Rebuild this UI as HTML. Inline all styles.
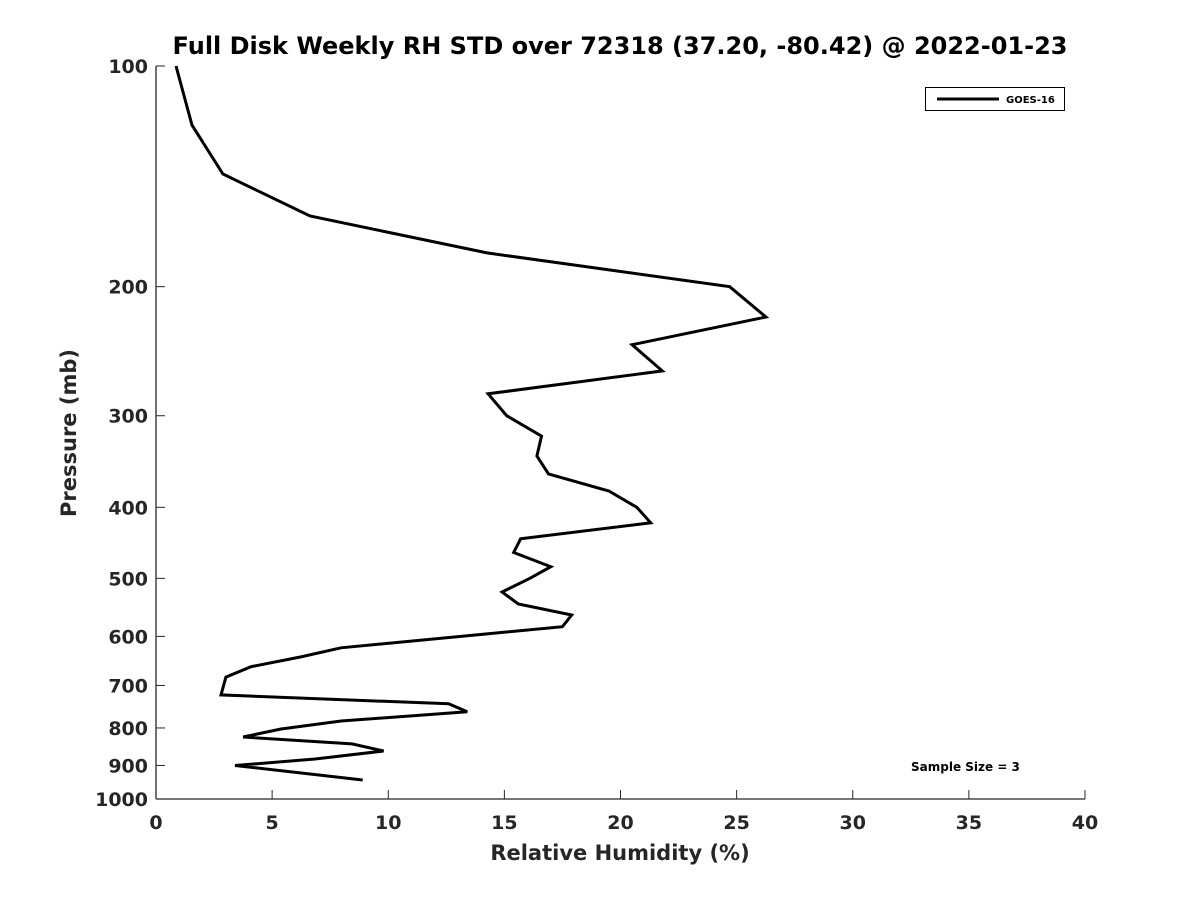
<!DOCTYPE html>
<html><head><meta charset="utf-8"><style>
body{margin:0;background:#fff;}
svg{display:block;font-family:"DejaVu Sans","Liberation Sans",sans-serif;font-weight:bold;}
</style></head><body>
<svg id="chart" width="1200" height="900" xmlns="http://www.w3.org/2000/svg">
<rect width="1200" height="900" fill="#fff"/>
<text x="620" y="54" text-anchor="middle" font-size="24" fill="#000">Full Disk Weekly RH STD over 72318 (37.20, -80.42) @ 2022-01-23</text>
<g id="axes"></g>
<g id="series"></g>
<text transform="translate(76,433) rotate(-90)" text-anchor="middle" font-size="21" fill="#262626">Pressure (mb)</text>
<text x="620" y="860" text-anchor="middle" font-size="21" fill="#262626">Relative Humidity (%)</text>
<g>
<rect x="925.5" y="87.5" width="139" height="23" fill="#fff" stroke="#000" stroke-width="1"/>
<line x1="937" y1="99" x2="999" y2="99" stroke="#000" stroke-width="3"/>
<text x="1006" y="103" font-size="10" fill="#000">GOES-16</text>
</g>
<text x="911" y="771" font-size="12" fill="#000">Sample Size = 3</text>
</svg>
<script>
const xTicks=[0,5,10,15,20,25,30,35,40];
const yTicks=[100,200,300,400,500,600,700,800,900,1000];
const pressure=[100,120.4,140.4,160.2,179.9,200,220,240,260.6,280,300,319.8,340.5,360.2,380,400,420,441.6,461,482,500,521.9,542,561,582,622,640,660,681.8,721,741.6,760.5,782.8,802.6,823,841,860,882,900,942];
const rhStd=[0.86,1.55,2.88,6.63,14.25,24.7,26.26,20.5,21.8,14.3,15.1,16.6,16.4,16.9,19.5,20.7,21.3,15.7,15.4,17.0,16.1,14.9,15.6,17.9,17.5,7.97,6.24,4.09,3.01,2.8,12.6,13.4,7.97,5.38,3.75,8.44,9.8,6.85,3.4,8.9];
const L=156,R=1085,T=66,B=799;
const xs=v=>L+(v-0)/(40-0)*(R-L);
const ys=p=>T+(Math.log10(p)-2)/(3-2)*(B-T);
const NS='http://www.w3.org/2000/svg';
const ax=document.getElementById('axes');
function mk(tag,attrs,parent){const e=document.createElementNS(NS,tag);for(const k in attrs)e.setAttribute(k,attrs[k]);parent.appendChild(e);return e;}
const yl=mk('line',{x1:L,y1:T,x2:L,y2:B,stroke:'#262626','stroke-width':1.3},ax);


const xl=mk('line',{x1:L,y1:B,x2:R,y2:B,stroke:'#262626','stroke-width':1.3},ax);


xTicks.forEach(v=>{
 const x=xs(v);
 const t=mk('line',{x1:x,y1:B,x2:x,y2:B-9,stroke:'#262626','stroke-width':1},ax);
 
 
 const tx=mk('text',{x:x,y:B+30,'text-anchor':'middle','font-size':19,fill:'#262626'},ax);
 tx.textContent=v;
 
 
});
yTicks.forEach(p=>{
 const y=ys(p);
 const t=mk('line',{x1:L,y1:y,x2:L+9,y2:y,stroke:'#262626','stroke-width':1},ax);
 
 
 const tx=mk('text',{x:L-8,y:y+7,'text-anchor':'end','font-size':19,fill:'#262626'},ax);
 tx.textContent=p;
 
 
});
const pts=pressure.map((p,i)=>xs(rhStd[i]).toFixed(1)+','+ys(p).toFixed(1)).join(' ');
const pl=mk('polyline',{points:pts,fill:'none',stroke:'#000','stroke-width':3,'stroke-linejoin':'miter'},document.getElementById('series'));


</script>
</body></html>
